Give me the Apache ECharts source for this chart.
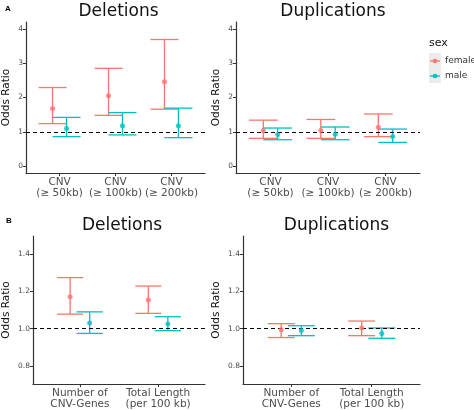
<!DOCTYPE html>
<html><head><meta charset="utf-8">
<script src="https://cdn.jsdelivr.net/npm/echarts@6/dist/echarts.min.js"></script>
<style>html,body{margin:0;padding:0;background:#fff}#c{width:474px;height:410px}</style>
</head><body><div id="c"></div>
<script>
// ---- data ----
const catsA = ['CNV\n(≥ 50kb)', 'CNV\n(≥ 100kb)', 'CNV\n(≥ 200kb)'];
const catsB = ['Number of\nCNV-Genes', 'Total Length\n(per 100 kb)'];
// [estimate, lower, upper]
const delA_female = [[1.68, 1.24, 2.29], [2.05, 1.48, 2.85], [2.46, 1.66, 3.69]];
const delA_male   = [[1.10, 0.86, 1.42], [1.18, 0.91, 1.56], [1.18, 0.83, 1.69]];
const dupA_female = [[1.04, 0.81, 1.34], [1.04, 0.81, 1.36], [1.13, 0.86, 1.52]];
const dupA_male   = [[0.92, 0.77, 1.11], [0.93, 0.77, 1.14], [0.86, 0.69, 1.08]];
const delB_female = [[1.171, 1.078, 1.273], [1.154, 1.082, 1.228]];
const delB_male   = [[1.031, 0.975, 1.090], [1.025, 0.990, 1.064]];
const dupB_female = [[0.994, 0.953, 1.027], [1.004, 0.963, 1.041]];
const dupB_male   = [[0.990, 0.963, 1.016], [0.975, 0.949, 1.004]];
const ticksA = [0, 1, 2, 3, 4];
const ticksB = [0.8, 1.0, 1.2, 1.4];
const titles = ['Deletions', 'Duplications', 'Deletions', 'Duplications'];

const RED = '#F8766D', TEAL = '#00BFC4';
const chart = echarts.init(document.getElementById('c'));
const panels = [
  {grid:{left:22,top:22,width:183,height:151}, cats:catsA, y:[-0.2,4.2], ticks:ticksA, f:delA_female, m:delA_male, cap:0.25, fmt:v=>String(v)},
  {grid:{left:236,top:22,width:184,height:151}, cats:catsA, y:[-0.2,4.2], ticks:ticksA, f:dupA_female, m:dupA_male, cap:0.25, fmt:v=>String(v)},
  {grid:{left:29,top:236,width:176,height:151}, cats:catsB, y:[0.705,1.495], ticks:ticksB, f:delB_female, m:delB_male, cap:0.167, fmt:v=>v.toFixed(1)},
  {grid:{left:243,top:236,width:177,height:151}, cats:catsB, y:[0.705,1.495], ticks:ticksB, f:dupB_female, m:dupB_male, cap:0.167, fmt:v=>v.toFixed(1)}
];
const grids=[], xAxes=[], yAxes=[], series=[], titleOpts=[];
panels.forEach((p,i)=>{
  grids.push(p.grid);
  const n=p.cats.length;
  xAxes.push({type:'value', gridIndex:i, min:0.4, max:n+0.6, splitLine:{show:false},
    axisLine:{show:true,onZero:false,lineStyle:{color:'#333',width:1.2}},
    axisTick:{show:true,customValues:p.cats.map((c,k)=>k+1),length:3,lineStyle:{color:'#333'}},
    axisLabel:{customValues:p.cats.map((c,k)=>k+1),formatter:v=>p.cats[Math.round(v)-1]||'',color:'#4d4d4d',fontSize:10.5,lineHeight:11,margin:4,fontFamily:'DejaVu Sans'}});
  yAxes.push({type:'value', gridIndex:i, min:p.y[0], max:p.y[1], splitLine:{show:false},
    name:'Odds Ratio', nameLocation:'middle', nameRotate:90, nameGap:i<2?14:21,
    nameTextStyle:{color:'#111',fontSize:10.5,fontFamily:'DejaVu Sans'},
    axisLine:{show:true,onZero:false,lineStyle:{color:'#333',width:1.2}},
    axisTick:{show:true,customValues:p.ticks,length:3,lineStyle:{color:'#333'}},
    axisLabel:{customValues:p.ticks,formatter:p.fmt,color:'#4d4d4d',fontSize:7.5,margin:3,fontFamily:'DejaVu Sans'}});
  titleOpts.push({text:titles[i], left:p.grid.left+p.grid.width/2, top:p.grid.top-(i<2?24:24), textAlign:'center',
    textStyle:{fontSize:17,fontWeight:'normal',color:'#111',fontFamily:'DejaVu Sans'}});
  [[p.f,RED,-0.125],[p.m,TEAL,0.125]].forEach(([d,col,off])=>{
    const data=d.map((r,k)=>[k+1+off,r[0],r[1],r[2]]);
    series.push({type:'custom', xAxisIndex:i, yAxisIndex:i, data, silent:true,
      renderItem:(params,api)=>{
        const x=api.value(0), lo=api.value(2), hi=api.value(3);
        const a=api.coord([x,lo]), b=api.coord([x,hi]);
        const l=api.coord([x-p.cap,lo])[0], r=api.coord([x+p.cap,lo])[0];
        const st={stroke:col,lineWidth:1.3};
        return {type:'group',children:[
          {type:'line',shape:{x1:a[0],y1:a[1],x2:b[0],y2:b[1]},style:st},
          {type:'line',shape:{x1:l,y1:a[1],x2:r,y2:a[1]},style:st},
          {type:'line',shape:{x1:l,y1:b[1],x2:r,y2:b[1]},style:st}]};
      }});
    series.push({type:'scatter', xAxisIndex:i, yAxisIndex:i, data:data.map(v=>[v[0],v[1]]),
      symbolSize:5, itemStyle:{color:col}, silent:true, z:5});
  });
  series.push({type:'line', xAxisIndex:i, yAxisIndex:i, data:[], silent:true,
    markLine:{symbol:'none',silent:true,label:{show:false},lineStyle:{color:'#000',type:[4,3],width:1.2},data:[{yAxis:1}]}});
});
titleOpts.push({text:'A',left:0,top:0,textStyle:{fontSize:8,fontWeight:'bold',color:'#000'}});
titleOpts.push({text:'B',left:1,top:212,textStyle:{fontSize:8,fontWeight:'bold',color:'#000'}});
chart.setOption({animation:false, title:titleOpts, grid:grids, xAxis:xAxes, yAxis:yAxes, series,
  graphic:[
    {type:'text',left:429,top:38,style:{text:'sex',fontSize:11,fill:'#111',fontFamily:'DejaVu Sans'}},
    {type:'rect',shape:{x:429,y:53,width:12,height:30},style:{fill:'#ebebeb'}},
    {type:'line',shape:{x1:430,y1:61,x2:440,y2:61},style:{stroke:RED,lineWidth:1.3}},
    {type:'circle',shape:{cx:435,cy:61,r:2.3},style:{fill:RED}},
    {type:'line',shape:{x1:430,y1:76,x2:440,y2:76},style:{stroke:TEAL,lineWidth:1.3}},
    {type:'circle',shape:{cx:435,cy:76,r:2.3},style:{fill:TEAL}},
    {type:'text',left:445,top:56,style:{text:'female',fontSize:9,fill:'#333',fontFamily:'DejaVu Sans'}},
    {type:'text',left:445,top:71,style:{text:'male',fontSize:9,fill:'#333',fontFamily:'DejaVu Sans'}}
  ]});
</script></body></html>
